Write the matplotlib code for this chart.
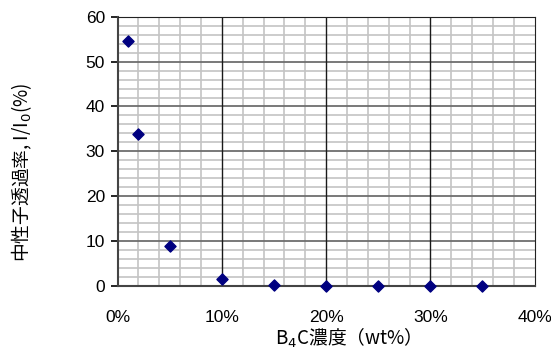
import numpy as np
import matplotlib.pyplot as plt
from matplotlib.ticker import MultipleLocator, FuncFormatter

plt.rcParams['font.family'] = ['Liberation Sans', 'Noto Sans CJK JP']

# B4C 濃度 (wt%) と中性子透過率 (%)
conc = [1, 2, 5, 10, 15, 20, 25, 30, 35]
trans = [54.5, 33.8, 8.9, 1.6, 0.3, 0.1, 0.1, 0.1, 0.1]

fig = plt.figure(figsize=(5.51, 3.52), dpi=100)
ax = fig.add_axes([0.2133, 0.1875, 0.757, 0.765])

ax.set_xlim(0, 40)
ax.set_ylim(0, 60)

ax.xaxis.set_major_locator(MultipleLocator(10))
ax.yaxis.set_major_locator(MultipleLocator(10))
ax.xaxis.set_major_formatter(FuncFormatter(lambda v, p: f"{v:.0f}%"))

# 目盛線: 補助線 → 横の主線 → 縦の主線 の順に重ねる
for x in np.arange(2, 40, 2):
    if x % 10:
        ax.axvline(x, color='#c4c4c4', lw=1.2, zorder=0.5)
for y in np.arange(2, 60, 2):
    if y % 10:
        ax.axhline(y, color='#c4c4c4', lw=1.2, zorder=0.6)
for y in np.arange(10, 60, 10):
    ax.axhline(y, color='#6e6e6e', lw=1.3, zorder=0.7)
for x in np.arange(10, 40, 10):
    ax.axvline(x, color='#1a1a1a', lw=1.0, zorder=0.8)

ax.scatter(conc, trans, marker='D', s=32, color='#000080', zorder=3, clip_on=False)

for s in ['top', 'right']:
    ax.spines[s].set_color('#222222')
for s in ['left', 'bottom']:
    ax.spines[s].set_color('#444444')
    ax.spines[s].set_linewidth(1.5)

ax.tick_params(axis='y', which='major', direction='out', length=5, width=1.2,
               labelsize=12.5, pad=4)
ax.tick_params(axis='x', which='both', length=0, labelsize=12.5, pad=17)

ax.set_xlabel('B$_4$C濃度（wt%）', fontsize=13.5, va='center',
              family=['Noto Sans CJK JP'])
ax.set_ylabel('中性子透過率, I/I$_0$(%)', fontsize=13.5, va='center',
              family=['Noto Sans CJK JP'])
ax.xaxis.set_label_coords(0.541, -0.193)
ax.yaxis.set_label_coords(-0.229, 0.423)

fig.savefig('out.png', dpi=100)
